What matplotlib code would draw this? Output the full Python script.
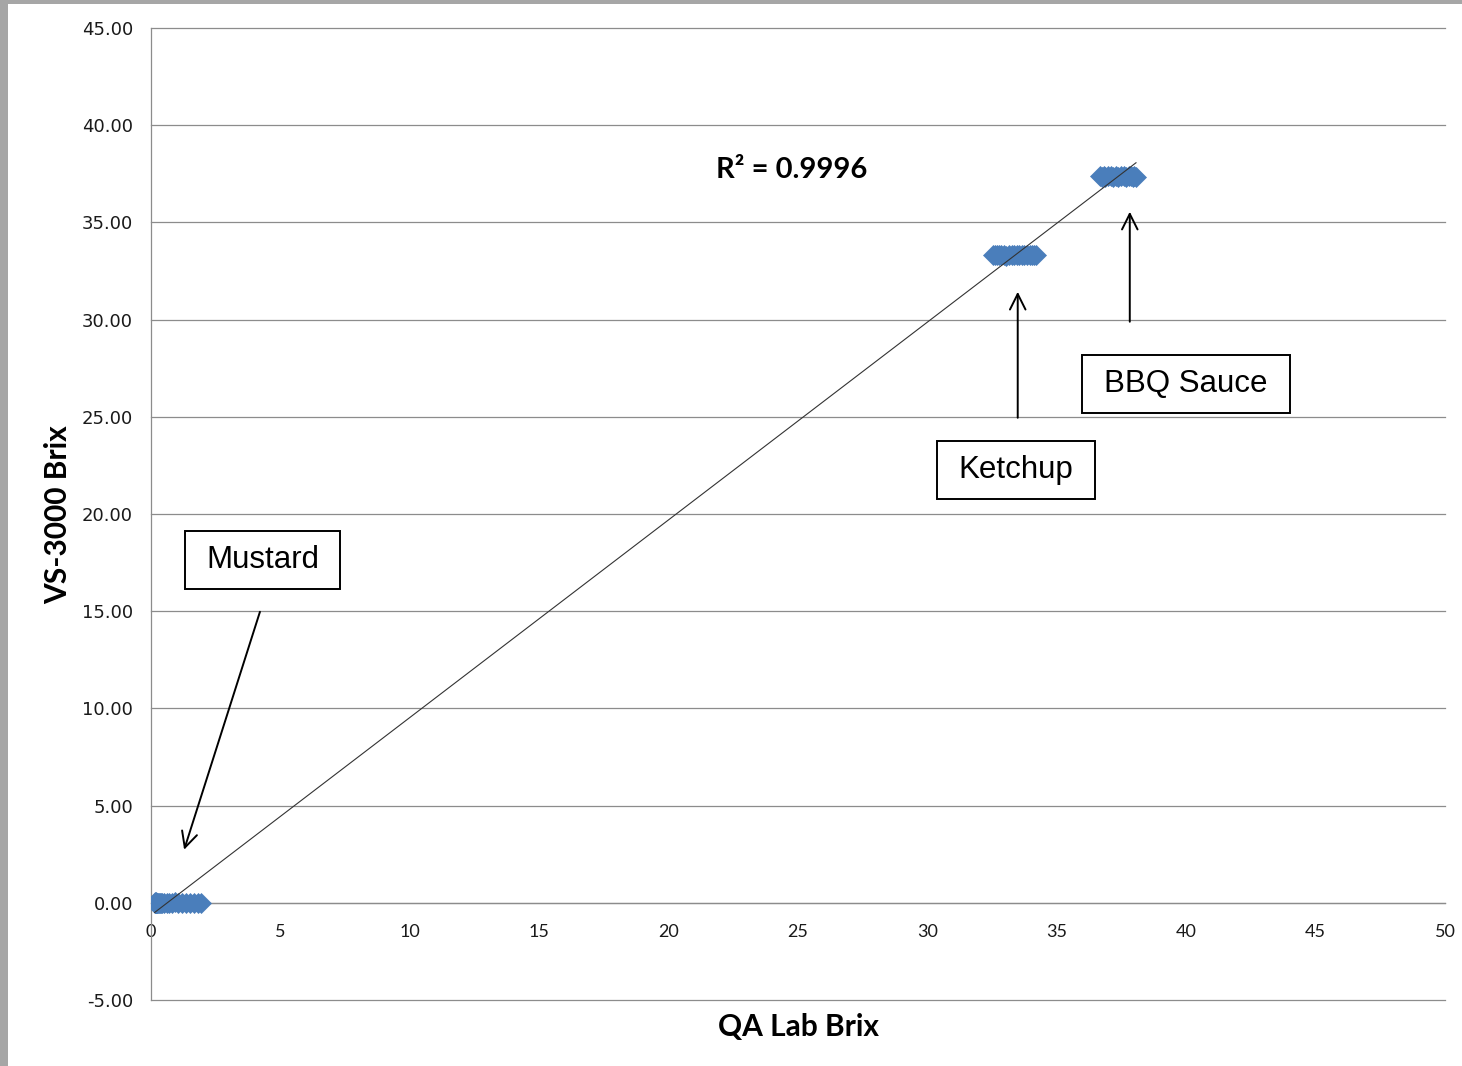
import numpy as np
import matplotlib
matplotlib.use("Agg")
import matplotlib.pyplot as plt
from matplotlib.patches import Rectangle

# ---- data ----
mustard_lab = [0.14, 0.15, 0.16, 0.17, 0.18, 0.19, 0.2, 0.21, 0.23, 0.25, 0.27, 0.3, 0.33, 0.37,
               0.42, 0.5, 0.6, 0.7, 0.8, 0.92, 1.05, 1.2, 1.35, 1.5, 1.65, 1.8, 1.95]
mustard_vs = [0.02, 0.0, 0.01, 0.0, -0.01, 0.01, 0.0, 0.02, 0.0, -0.02, 0.01, 0.0, -0.01, 0.01,
              0.0, 0.0, 0.01, -0.01, 0.0, 0.02, 0.0, -0.01, 0.01, 0.0, 0.0, 0.01, 0.0]
ketchup_lab = [32.54, 32.6, 32.68, 32.75, 32.85, 32.95, 33.05, 33.15, 33.25, 33.35, 33.45,
               33.55, 33.65, 33.75, 33.85, 33.95, 34.05, 34.13, 34.2]
ketchup_vs = [33.31, 33.33, 33.3, 33.32, 33.34, 33.31, 33.29, 33.33, 33.32, 33.3,
              33.33, 33.31, 33.34, 33.32, 33.3, 33.33, 33.31, 33.32, 33.3]
bbq_lab = [36.68, 36.74, 36.81, 36.88, 36.98, 37.08, 37.18, 37.28, 37.38, 37.48, 37.58,
           37.68, 37.78, 37.88, 37.95, 38.0, 38.06]
bbq_vs = [37.37, 37.35, 37.38, 37.36, 37.39, 37.37, 37.35, 37.38, 37.36, 37.37,
          37.39, 37.35, 37.37, 37.38, 37.36, 37.37, 37.36]

x_ticks = [0, 5, 10, 15, 20, 25, 30, 35, 40, 45, 50]
y_ticks = [-5, 0, 5, 10, 15, 20, 25, 30, 35, 40, 45]
r2_label = "R² = 0.9996"

W, H = 1462, 1066
fig = plt.figure(figsize=(W / 100, H / 100), dpi=100)
fig.patch.set_facecolor("white")

# window border strips of the screenshot
fig.patches.append(Rectangle((0, 0), 8 / W, 1, transform=fig.transFigure,
                             facecolor="#a6a6a6", edgecolor="none", zorder=0))
fig.patches.append(Rectangle((0, 1 - 4 / H), 1, 4 / H, transform=fig.transFigure,
                             facecolor="#a6a6a6", edgecolor="none", zorder=0))

ax = fig.add_axes([151 / W, 1 - 1000 / H, (1445 - 151) / W, (1000 - 28) / H])
ax.set_xlim(0, 50)
ax.set_ylim(-5, 45)

grid_c = "#8c8c8c"
for yv in y_ticks:
    ax.axhline(yv, color=grid_c, lw=0.9, zorder=1, clip_on=False)

for s in ["top", "right"]:
    ax.spines[s].set_visible(False)
ax.spines["left"].set_color(grid_c)
ax.spines["left"].set_linewidth(0.9)
ax.spines["bottom"].set_position(("data", 0))
ax.spines["bottom"].set_color(grid_c)
ax.spines["bottom"].set_linewidth(0.9)

ax.set_xticks(x_ticks)
ax.set_xticklabels([str(v) for v in x_ticks], family="Lato", fontsize=13)
ax.set_yticks(y_ticks)
ax.set_yticklabels([f"{v:.2f}" for v in y_ticks], family="DejaVu Sans", fontsize=13)
ax.tick_params(axis="both", length=0, colors="#1a1a1a")
ax.tick_params(axis="y", pad=13)
ax.tick_params(axis="x", pad=15)

# scatter points
blue = "#4a7ebb"
for xs, ys in [(mustard_lab, mustard_vs), (ketchup_lab, ketchup_vs), (bbq_lab, bbq_vs)]:
    ax.plot(xs, ys, linestyle="none", marker="D", markersize=9.8,
            markerfacecolor=blue, markeredgecolor=blue, markeredgewidth=0.5, zorder=3)

# linear trendline
all_x = np.array(mustard_lab + ketchup_lab + bbq_lab)
all_y = np.array(mustard_vs + ketchup_vs + bbq_vs)
slope, intercept = np.polyfit(all_x, all_y, 1)
xl = np.array([all_x.min(), all_x.max()])
ax.plot(xl, slope * xl + intercept, color="#333333", lw=0.8, zorder=4)

ax.text(24.75, 37.7, r2_label, fontsize=21, fontweight="bold", family="Lato",
        ha="center", va="center", color="black")

# annotation boxes and arrows
boxes = [
    ("Mustard", 1.31, 16.15, 7.31, 19.14, (4.21, 14.97), (1.28, 2.73)),
    ("Ketchup", 30.39, 20.78, 36.47, 23.77, (33.49, 24.95), (33.49, 31.43)),
    ("BBQ Sauce", 35.96, 25.21, 44.0, 28.19, (37.82, 29.89), (37.82, 35.55)),
]
for label, x0, y0, x1, y1, start, tip in boxes:
    ax.add_patch(Rectangle((x0, y0), x1 - x0, y1 - y0, facecolor="white",
                           edgecolor="black", lw=1.4, zorder=5, clip_on=False))
    ax.text((x0 + x1) / 2, (y0 + y1) / 2, label, fontsize=22.5, family="Liberation Sans",
            ha="center", va="center", color="black", zorder=6)
    ax.annotate("", xy=tip, xytext=start,
                arrowprops=dict(arrowstyle="->", lw=1.4, color="black",
                                mutation_scale=28, shrinkA=0, shrinkB=0),
                zorder=6)

fig.text(799 / W, 1 - 1027 / H, "QA Lab Brix", fontsize=21.5, fontweight="bold",
         family="Lato", ha="center", va="center")
fig.text(58 / W, 1 - 515 / H, "VS-3000 Brix", fontsize=21.5, fontweight="bold",
         family="Lato", ha="center", va="center", rotation=90)

fig.savefig("out.png", dpi=100, facecolor="white")
